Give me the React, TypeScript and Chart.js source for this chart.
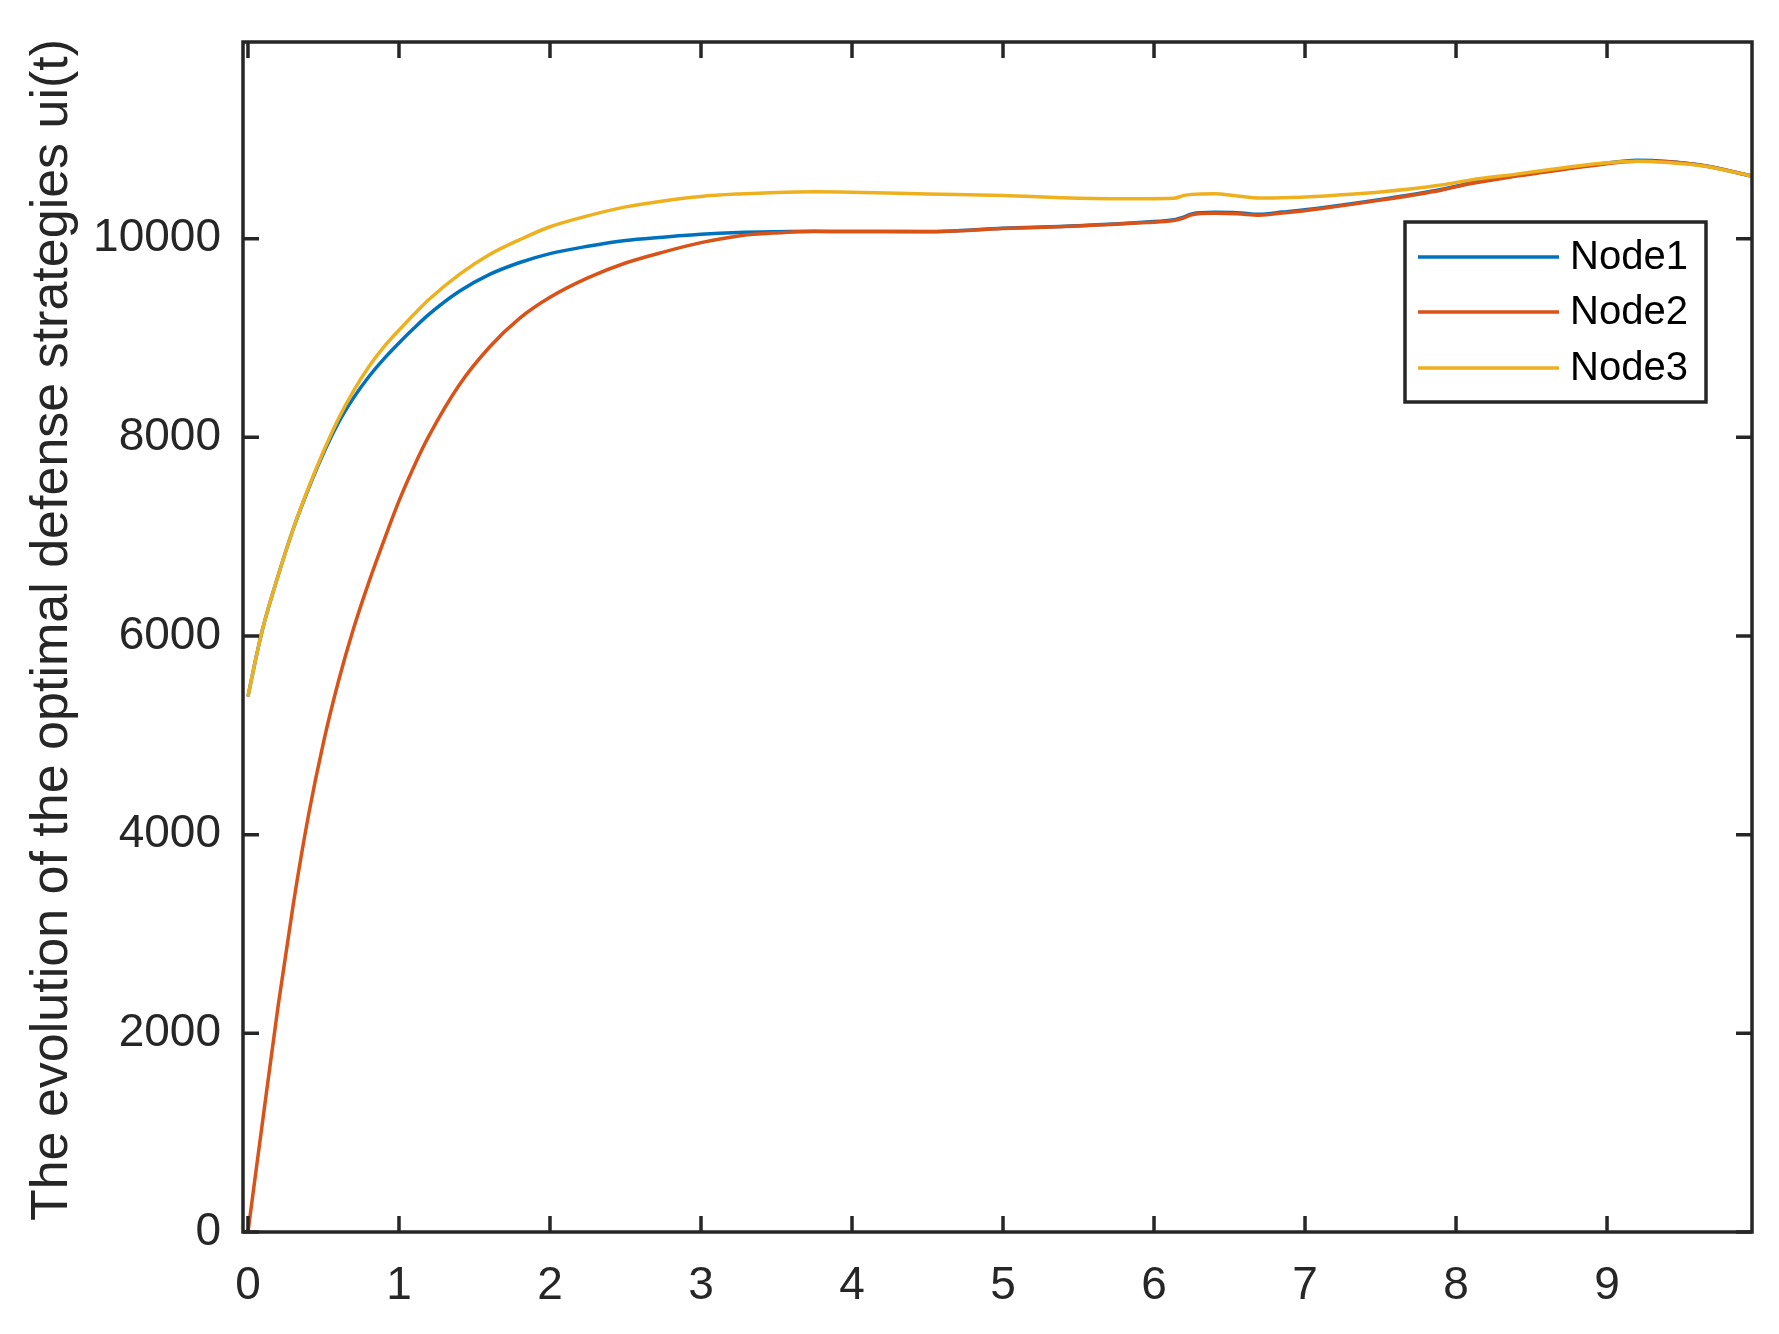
import React, { useEffect, useRef } from "react";
import { Chart, registerables } from "chart.js";

Chart.register(...registerables);

// ---- data ----
const timeValues = [
  0, 0.05, 0.1, 0.2, 0.3, 0.4, 0.5, 0.6, 0.7, 0.8, 0.9, 1.0, 1.1, 1.2, 1.4, 1.6, 1.8, 2.0,
  2.25, 2.5, 2.75, 3.0, 3.25, 3.5, 3.75, 4.0, 4.5, 5.0, 5.5, 5.95, 6.13, 6.2, 6.25, 6.4,
  6.55, 6.7, 6.85, 7.1, 7.5, 7.9, 8.1, 8.4, 8.7, 8.95, 9.2, 9.4, 9.65, 9.96,
];

const node1Values = [
  5390, 5760, 6090, 6610, 7080, 7480, 7840, 8150, 8400, 8610, 8790, 8950, 9100, 9240, 9470,
  9640, 9760, 9850, 9924, 9982, 10015, 10044, 10062, 10070, 10074, 10072, 10072, 10105,
  10131, 10168, 10190, 10220, 10250, 10265, 10262, 10245, 10268, 10310, 10395, 10495,
  10560, 10635, 10700, 10752, 10790, 10778, 10735, 10630,
];

const node2Values = [
  0, 580, 1150, 2280, 3300, 4190, 4930, 5550, 6080, 6540, 6960, 7360, 7710, 8020, 8530,
  8910, 9200, 9410, 9605, 9755, 9865, 9960, 10028, 10058, 10072, 10072, 10070, 10102,
  10128, 10162, 10182, 10210, 10240, 10255, 10250, 10236, 10258, 10302, 10388, 10488,
  10555, 10630, 10695, 10745, 10780, 10775, 10732, 10630,
];

const node3Values = [
  5390, 5760, 6090, 6610, 7080, 7490, 7860, 8190, 8470, 8710, 8910, 9080, 9240, 9390, 9640,
  9840, 9990, 10120, 10230, 10320, 10380, 10425, 10450, 10466, 10472, 10468, 10450, 10434,
  10408, 10402, 10406, 10436, 10446, 10452, 10430, 10410, 10412, 10428, 10470, 10540,
  10592, 10650, 10712, 10758, 10780, 10768, 10730, 10630,
];

const seriesNames = ["Node1", "Node2", "Node3"];
const xTickValues = [0, 1, 2, 3, 4, 5, 6, 7, 8, 9];
const yTickValues = [0, 2000, 4000, 6000, 8000, 10000];
const yAxisTitle = "The evolution of the optimal defense strategies ui(t)";

// ---- style ----
const COLORS = ["#0072BD", "#D95319", "#EDB120"];
const AXIS_COLOR = "#262626";
const FONT = "'Liberation Sans', Arial, Helvetica, sans-serif";
const TICK_LEN = 16;
const LINE_W = 3.5;

const toPoints = (vals: number[]) => vals.map((v, i) => ({ x: timeValues[i], y: v }));

const framePlugin = {
  id: "matlabFrame",
  afterDatasetsDraw(chart: any) {
    const { ctx, chartArea, scales } = chart;
    const { left, right, top, bottom } = chartArea;
    const xs = scales.x;
    const ys = scales.y;
    ctx.save();
    ctx.strokeStyle = AXIS_COLOR;
    ctx.lineWidth = 3.5;
    ctx.lineCap = "butt";
    ctx.beginPath();
    for (const v of xTickValues) {
      const px = xs.getPixelForValue(v);
      ctx.moveTo(px, bottom);
      ctx.lineTo(px, bottom - TICK_LEN);
      ctx.moveTo(px, top);
      ctx.lineTo(px, top + TICK_LEN);
    }
    for (const v of yTickValues) {
      const py = ys.getPixelForValue(v);
      ctx.moveTo(left, py);
      ctx.lineTo(left + TICK_LEN, py);
      ctx.moveTo(right, py);
      ctx.lineTo(right - TICK_LEN, py);
    }
    ctx.stroke();
    ctx.lineJoin = "miter";
    ctx.strokeRect(left, top, right - left, bottom - top);

    // legend
    const lx = 1405, ly = 222, lw = 301, lh = 180;
    ctx.fillStyle = "#ffffff";
    ctx.fillRect(lx, ly, lw, lh);
    ctx.strokeStyle = AXIS_COLOR;
    ctx.lineWidth = 3.5;
    ctx.strokeRect(lx, ly, lw, lh);
    const rows = [257, 312, 368];
    ctx.font = `40px ${FONT}`;
    ctx.textAlign = "left";
    ctx.textBaseline = "middle";
    seriesNames.forEach((name, i) => {
      ctx.strokeStyle = COLORS[i];
      ctx.lineWidth = LINE_W;
      ctx.beginPath();
      ctx.moveTo(1418, rows[i]);
      ctx.lineTo(1559, rows[i]);
      ctx.stroke();
      ctx.fillStyle = "#000000";
      ctx.fillText(name, 1570, rows[i] + 1);
    });

    // y axis title
    ctx.save();
    ctx.translate(67, 630);
    ctx.rotate(-Math.PI / 2);
    ctx.font = `52px ${FONT}`;
    ctx.fillStyle = AXIS_COLOR;
    ctx.textAlign = "center";
    ctx.textBaseline = "alphabetic";
    ctx.fillText(yAxisTitle, 0, 0);
    ctx.restore();
    ctx.restore();
  },
};

export default function App() {
  const canvasRef = useRef<HTMLCanvasElement | null>(null);

  useEffect(() => {
    if (!canvasRef.current) return;
    const series = [node1Values, node2Values, node3Values];
    const chart = new Chart(canvasRef.current, {
      type: "line",
      data: {
        datasets: series.map((vals, i) => ({
          label: seriesNames[i],
          data: toPoints(vals),
          borderColor: COLORS[i],
          backgroundColor: COLORS[i],
          borderWidth: LINE_W,
          pointRadius: 0,
          cubicInterpolationMode: "monotone" as const,
          fill: false,
          order: 2 - i,
        })),
      },
      options: {
        animation: false,
        responsive: false,
        maintainAspectRatio: false,
        layout: { padding: { top: 42, right: 27, left: 0, bottom: 0 } },
        plugins: { legend: { display: false }, tooltip: { enabled: false } },
        scales: {
          x: {
            type: "linear",
            min: -0.033,
            max: 9.96,
            grid: { display: false, drawTicks: false },
            border: { display: false },
            afterBuildTicks: (s: any) => {
              s.ticks = xTickValues.map((v) => ({ value: v }));
            },
            afterFit: (s: any) => {
              s.height = 102;
              s.paddingLeft = 0;
              s.paddingRight = 0;
            },
            ticks: {
              padding: 27,
              color: AXIS_COLOR,
              font: { size: 46, family: FONT },
              maxRotation: 0,
              autoSkip: false,
              callback: (v: any) => String(v),
            },
          },
          y: {
            type: "linear",
            min: 0,
            max: 11980,
            grid: { display: false, drawTicks: false },
            border: { display: false },
            afterBuildTicks: (s: any) => {
              s.ticks = yTickValues.map((v) => ({ value: v }));
            },
            afterFit: (s: any) => {
              s.width = 243;
              s.paddingTop = 0;
              s.paddingBottom = 0;
            },
            ticks: {
              padding: 22,
              color: AXIS_COLOR,
              font: { size: 46, family: FONT },
              autoSkip: false,
              callback: (v: any) => String(v),
            },
          },
        },
      },
      plugins: [framePlugin],
    });
    return () => chart.destroy();
  }, []);

  return (
    <div style={{ position: "absolute", left: 0, top: 0, width: 1779, height: 1334, background: "#fff" }}>
      <canvas ref={canvasRef} width={1779} height={1334} style={{ display: "block" }} />
    </div>
  );
}
